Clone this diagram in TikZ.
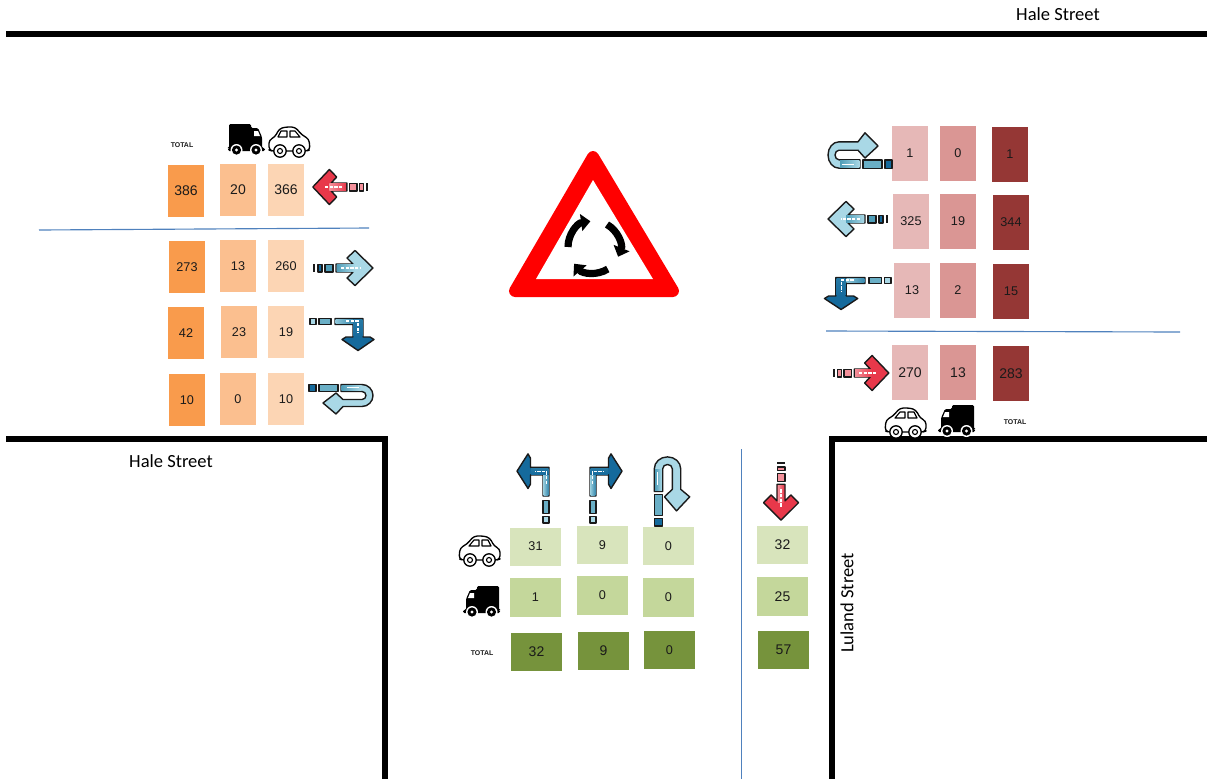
\documentclass[tikz,border=0pt]{standalone}
\usepackage{fontspec}
\setmainfont{Liberation Sans}
\newfontfamily\carl{Carlito}
\usetikzlibrary{arrows.meta}
\definecolor{wA}{HTML}{F99B4C}\definecolor{wB}{HTML}{FBBF8F}\definecolor{wC}{HTML}{FCD5B4}
\definecolor{eA}{HTML}{E6B8B7}\definecolor{eB}{HTML}{DA9694}\definecolor{eC}{HTML}{953735}
\definecolor{sA}{HTML}{D8E4BC}\definecolor{sB}{HTML}{C4D79B}\definecolor{sC}{HTML}{76933C}
\definecolor{ltb}{HTML}{A9D8E6}\definecolor{dkb}{HTML}{156A9C}\definecolor{teal}{HTML}{4F9DB8}
\definecolor{redh}{HTML}{E8384A}\definecolor{pinkb}{HTML}{F4919B}\definecolor{rule}{HTML}{4F81BD}
\definecolor{ink}{HTML}{1A1A1A}\definecolor{signred}{HTML}{FF0000}
\tikzset{
  x=0.75pt,y=-0.75pt,
  cellbox/.style={draw=none,inner sep=0pt,text=ink,font=\fontsize{9.5}{11}\selectfont},
  bignum/.style={font=\fontsize{10.5}{12}\selectfont},
  wcell/.style={cellbox,minimum width=27pt,minimum height=39pt},
  ecell/.style={cellbox,minimum width=27pt,minimum height=41.25pt},
  scell/.style={cellbox,minimum width=38.25pt,minimum height=28.5pt},
  road/.style={line width=4.5pt,draw=black},
  thin rule/.style={draw=rule,line width=0.85pt},
  street/.style={font=\carl\fontsize{13.9}{15}\selectfont,inner sep=0pt},
  totallabel/.style={font=\bfseries\fontsize{5.2}{6}\selectfont,inner sep=0pt,text=ink},
  icon/.style={draw=ink,line width=1.05pt,line join=round},
  glint/.style={draw=white,line width=0.8pt,dash pattern=on 2.5pt off 1pt},
  pics/straight/.style n args={3}{code={
    \fill[ink] (0,-4) rectangle (2,4);
    \filldraw[icon,fill=#2] (5,-3.8) rectangle (9,3.8);
    \filldraw[icon,fill=#3] (12,-3.8) rectangle (20,3.8);
    \filldraw[icon,fill=#1] (60,0) -- (42,-17.5) -- (34,-10) -- (40,-4) -- (23,-4) -- (23,4) -- (40,4) -- (34,10) -- (42,17.5) -- cycle;
    \fill[left color=#3,right color=#1] (23.8,-3.2) rectangle (42,3.2);
    \draw[glint] (28,0) -- (47,0);
  }},
  pics/turn/.style={code={
    \filldraw[icon,fill=ltb] (0,-3) rectangle (6,3);
    \filldraw[icon,fill=teal!70!ltb] (9,-3) rectangle (21,3);
    \filldraw[icon,fill=dkb] ({48+#1},15.5) -- (60,15.5) -- (64,18) -- (48,29) -- (32,18) -- (36,15.5) -- ({48-#1},15.5) -- ({48-#1},3) -- (25,3) -- (25,-3) -- ({48+#1},-3) -- cycle;
    \fill[left color=ltb!70!teal,right color=teal!60!dkb] (25.6,-2.3) rectangle ({48-#1},2.3);
    \fill[top color=dkb!70!teal,bottom color=dkb] ({48-#1+.7},-2.3) rectangle ({48+#1-.7},15);
    \draw[glint] (36,-.5) -- (48,-.5) -- (48,11);
  }},
  pics/uturn/.style={code={
    \filldraw[icon,fill=dkb] (0,-3.5) rectangle (7,3.5);
    \filldraw[icon,fill=teal!70!ltb] (10,-3.5) rectangle (29,3.5);
    \filldraw[icon,fill=ltb] (32,-3.5) -- (53,-3.5) arc[start angle=-90,end angle=90,radius=11] -- (34,18.5) -- (27,26) -- (14,15) -- (27,5) -- (34,11.5) -- (53,11.5) arc[start angle=90,end angle=-90,radius=4] -- (32,3.5) -- cycle;
    \fill[left color=teal,right color=ltb] (32.7,-2.8) rectangle (52,2.8);
    \draw[draw=white,line width=0.8pt] (38,-.5) -- (50,-.5);
  }},
  pics/carpic/.style={code={
    \filldraw[draw=black,fill=white,line width=1pt,line join=round,rounded corners=2.5] (4,25) -- (1,24) -- (1,14) -- (7,11) -- (11,3) -- (17,1) -- (27,1) -- (34,9) -- (41,13) -- (42,24) -- (38,25) -- cycle;
    \draw[black,line width=0.85pt,line join=round] (10,11) -- (13,5) -- (19,5) -- (19,11) -- cycle (22,5) -- (27,5) -- (32,11) -- (22,11) -- cycle;
    \foreach \wx in {12,31}{
      \filldraw[draw=black,fill=white,line width=1pt] (\wx,25) circle[radius=6.2];
      \draw[black,line width=0.85pt] (\wx,25) circle[radius=2.5];
    }
  }},
  pics/truckpic/.style={code={
    \fill[black,rounded corners=1] (1,0) -- (23,0) -- (23,4) -- (30,4) -- (34,13) -- (34,24) -- (37,24) -- (37,27) -- (0,27) -- (0,24) -- (1,24) -- cycle;
    \fill[white] (26,7) -- (30,7) -- (32,12) -- (26,12) -- cycle;
    \foreach \wx in {8.5,28}{
      \fill[white] (\wx,26) circle[radius=6];
      \fill[black] (\wx,26) circle[radius=4.6];
      \fill[white] (\wx,26) circle[radius=1.6];
    }
  }}
}
\begin{document}
\begin{tikzpicture}
\useasboundingbox (0,0) rectangle (1207,779);
% roads
\draw[road] (6,34) -- (1207,34);
\draw[road] (6,439) -- (385,439) -- (385,779);
\draw[road] (1207,439) -- (832,439) -- (832,779);
\coordinate (wl1) at (39,230); \coordinate (wl2) at (369,228);
\coordinate (el1) at (826,331); \coordinate (el2) at (1180,332);
\coordinate (sl1) at (741.5,449); \coordinate (sl2) at (741.5,779);
\draw[thin rule] (wl1) -- (wl2);
\draw[thin rule] (el1) -- (el2);
\draw[thin rule] (sl1) -- (sl2);
% street names
\node[street] (n1) at (1058,14) {Hale Street};
\node[street] (n2) at (171,461) {Hale Street};
\node[street,rotate=90] (n3) at (847,603) {Luland Street};
% west cells
\node[wcell,fill=wA,bignum] (w11) at (186,191) {386};
\node[wcell,fill=wB,bignum] (w12) at (238,190) {20};
\node[wcell,fill=wC,bignum] (w13) at (286,190) {366};
\node[wcell,fill=wA] (w21) at (187,267) {273};
\node[wcell,fill=wB] (w22) at (238,266) {13};
\node[wcell,fill=wC] (w23) at (286,266) {260};
\node[wcell,fill=wA] (w31) at (186,333) {42};
\node[wcell,fill=wB] (w32) at (239,332) {23};
\node[wcell,fill=wC] (w33) at (286,332) {19};
\node[wcell,fill=wA] (w41) at (187,400) {10};
\node[wcell,fill=wB] (w42) at (238,399) {0};
\node[wcell,fill=wC] (w43) at (286,399) {10};
% east cells
\node[ecell,fill=eA] (e11) at (910,153.5) {1};
\node[ecell,fill=eB] (e12) at (958,153.5) {0};
\node[ecell,fill=eC] (e13) at (1010,154.5) {1};
\node[ecell,fill=eA] (e21) at (911,221.5) {325};
\node[ecell,fill=eB] (e22) at (958,221.5) {19};
\node[ecell,fill=eC] (e23) at (1011,222.5) {344};
\node[ecell,fill=eA] (e31) at (912,290.5) {13};
\node[ecell,fill=eB] (e32) at (958,290.5) {2};
\node[ecell,fill=eC] (e33) at (1011,291.5) {15};
\node[ecell,fill=eA,bignum] (e41) at (910,372.5) {270};
\node[ecell,fill=eB,bignum] (e42) at (958,372.5) {13};
\node[ecell,fill=eC,bignum] (e43) at (1011,373.5) {283};
% south cells
\node[scell,fill=sA] (s11) at (535.5,546.5) {31};
\node[scell,fill=sA] (s12) at (602.5,545) {9};
\node[scell,fill=sA] (s13) at (668.5,546) {0};
\node[scell,fill=sA,bignum] (s14) at (782.5,545) {32};
\node[scell,fill=sB,minimum height=29.25pt] (s21) at (535.5,597.5) {1};
\node[scell,fill=sB,minimum height=29.25pt] (s22) at (602.5,595.5) {0};
\node[scell,fill=sB,minimum height=29.25pt] (s23) at (668.5,597.5) {0};
\node[scell,fill=sB,minimum height=29.25pt,bignum] (s24) at (782.5,596.5) {25};
\node[scell,fill=sC,bignum] (s31) at (536.5,651.5) {32};
\node[scell,fill=sC,bignum] (s32) at (603.5,651) {9};
\node[scell,fill=sC] (s33) at (669.5,650) {0};
\node[scell,fill=sC,bignum] (s34) at (783.5,650) {57};
% totals
\node[totallabel] (t1) at (182,145) {TOTAL};
\node[totallabel] (t2) at (1015,422) {TOTAL};
\node[totallabel] (t3) at (482,653) {TOTAL};
% vehicles
\pic at (228,124) {truckpic};
\pic at (268,126) {carpic};
\pic[xscale=-1] at (927,407) {carpic};
\pic[xscale=-1] at (975,405) {truckpic};
\pic[xscale=-1] at (501,535) {carpic};
\pic[xscale=-1] at (500,586) {truckpic};
% straight arrows
\pic[xscale=-0.92] at (368,187) {straight={redh}{pinkb}{pinkb}};
\pic at (313,268) {straight={ltb}{dkb}{teal}};
\pic[xscale=-1] at (888,219) {straight={ltb}{dkb}{teal}};
\pic[xscale=0.93] at (833,373) {straight={redh}{pinkb}{pinkb}};
\pic[rotate=-90,xscale=0.97] at (781,462) {straight={redh}{pinkb}{pinkb}};
% turning arrows
\pic at (310,321.5) {turn=5};
\pic[xscale=-1.04] at (891,280.5) {turn=5};
\pic[rotate=90,xscale=1.08,yscale=-1] at (546,523) {turn=3.5};
\pic[rotate=90,xscale=1.08] at (593,523) {turn=3.5};
% u-turn arrows
\pic at (309,388) {uturn};
\pic[rotate=180,yscale=1.2] at (892,164) {uturn};
\pic[rotate=90,xscale=1.08,yscale=1.2] at (658.5,526) {uturn};
% sign
\filldraw[draw=signred,fill=signred,line width=9pt,line join=round] (593,157) -- (673,291) -- (515,291) -- cycle;
\fill[white] (593,180) -- (653,279) -- (536,279) -- cycle;
\begin{scope}[shift={(594,247)},yscale=-1]
  \foreach \st/\en in {180/98,60/-22,-58/-140}{
    \draw[line width=5.4pt,-{Triangle[length=7pt,width=12.5pt]}] (\st:26) arc[start angle=\st,end angle=\en,radius=26];
  }
\end{scope}
\end{tikzpicture}
\end{document}
